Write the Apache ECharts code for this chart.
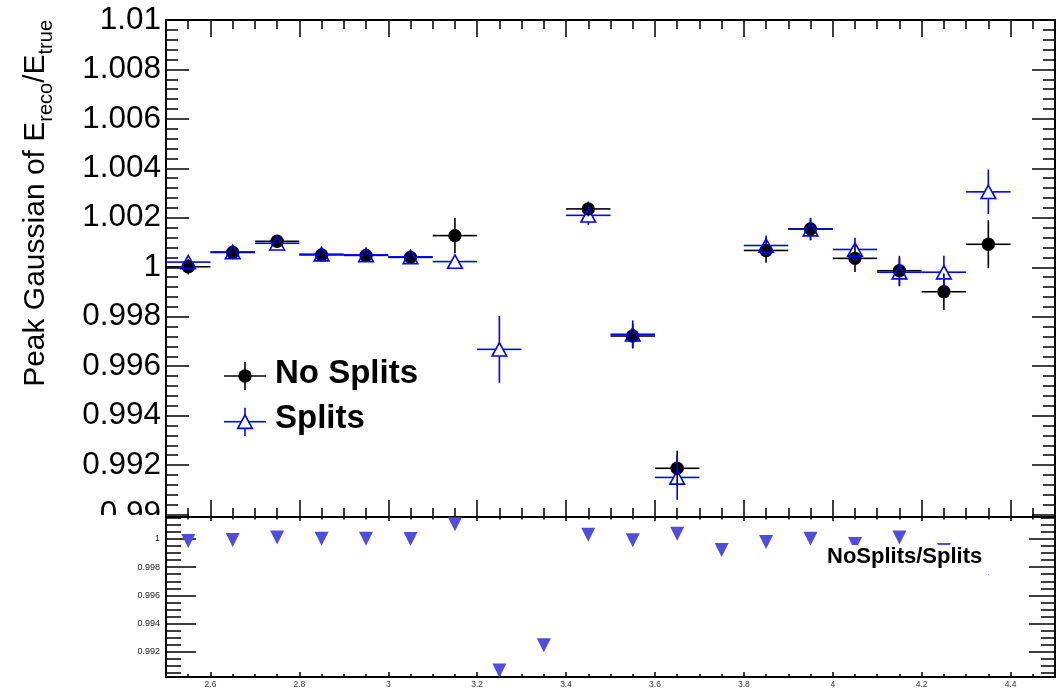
<!DOCTYPE html>
<html><head><meta charset="utf-8">
<script src="https://cdn.jsdelivr.net/npm/echarts@6/dist/echarts.min.js"></script>
<style>html,body{margin:0;padding:0;background:#fff}#c{width:1061px;height:691px}</style>
</head><body><div id="c"></div>
<script>
// ---------------- data ----------------
const xCenters = [2.55, 2.65, 2.75, 2.85, 2.95, 3.05, 3.15, 3.25, 3.35, 3.45, 3.55, 3.65, 3.75, 3.85, 3.95, 4.05, 4.15, 4.25, 4.35];
const binHalfWidth = 0.05;
const seriesNames = ['No Splits', 'Splits'];
const ratioName = 'NoSplits/Splits';
const noSplits    = [1.00002, 1.0006, 1.00105, 1.0005, 1.00048, 1.0004, 1.00128, null, null, 1.00236, 0.99722, 0.99187, null, 1.00068, 1.00155, 1.00036, 0.99986, 0.99901, 1.00093];
const noSplitsErr = [0.00031, 0.0002, 0.0002, 0.0002, 0.0002, 0.0002, 0.00071, null, null, 0.0003, 0.0005, 0.00071, null, 0.0005, 0.00045, 0.00055, 0.0006, 0.00074, 0.00097];
const splits      = [1.00021, 1.00062, 1.00097, 1.00053, 1.0005, 1.00042, 1.00023, 0.99668, null, 1.0021, 0.99729, 0.9915, null, 1.00088, 1.00154, 1.00072, 0.9998, 0.9998, 1.00305];
const splitsErr   = [0.00025, 0.00022, 0.0002, 0.0002, 0.0002, 0.0002, 0.0002, 0.00135, null, 0.00038, 0.00056, 0.0009, null, 0.0004, 0.00045, 0.00047, 0.00057, 0.00067, 0.0009];
const ratio       = [0.99986, 0.99993, 1.0001, 1.00002, 1.00002, 1.0, 1.00104, 0.99067, 0.99246, 1.0003, 0.99991, 1.00038, 0.99922, 0.99979, 1.00002, 0.99965, 1.0001, 0.99922, 0.99792];

const xTickLabels = [2.6, 2.8, 3, 3.2, 3.4, 3.6, 3.8, 4, 4.2, 4.4];
const topYTickLabels = [0.99, 0.992, 0.994, 0.996, 0.998, 1, 1.002, 1.004, 1.006, 1.008, 1.01];
const lowYTickLabels = [0.992, 0.994, 0.996, 0.998, 1];
const yTitle = ['Peak Gaussian of E', 'reco', '/E', 'true'];

// ---------------- helpers ----------------
const FONT = '"Liberation Sans", Arial, Helvetica, sans-serif';
const fmt = v => String(+(+v).toFixed(6));
function steps(a, b, s) { const o = []; const n = Math.round((b - a) / s); for (let i = 0; i <= n; i++) o.push(+(a + i * s).toFixed(6)); return o; }

const X_MIN = 2.5, X_MAX = 4.5;
const TOP_MIN = 0.9899, TOP_MAX = 1.01;
const LOW_MIN = 0.99021, LOW_MAX = 1.00156;
const xMinor = steps(2.55, 4.45, 0.05);
const topYMinor = steps(0.9904, 1.0096, 0.0004);
const lowYMinor = steps(0.9905, 1.0015, 0.0005);

function ax(grid, pos, min, max, ticks, len, line, labels, lab) {
  return {
    type: 'value', gridIndex: grid, position: pos, min: min, max: max,
    axisLine: { show: line, onZero: false, lineStyle: { color: '#000', width: 2 } },
    axisTick: { show: true, inside: true, length: len, customValues: ticks, lineStyle: { color: '#000', width: 1.5 } },
    axisLabel: labels ? Object.assign({ show: true, customValues: labels, formatter: fmt, fontFamily: FONT, color: '#000' }, lab) : { show: false },
    splitLine: { show: false }, minorTick: { show: false }, minorSplitLine: { show: false }
  };
}

const xAxes = [
  ax(0, 'bottom', X_MIN, X_MAX, xTickLabels, 17, false, null),
  ax(0, 'bottom', X_MIN, X_MAX, xMinor, 9, false, null),
  ax(0, 'top', X_MIN, X_MAX, xTickLabels, 17, true, null),
  ax(0, 'top', X_MIN, X_MAX, xMinor, 9, false, null),
  ax(1, 'bottom', X_MIN, X_MAX, xTickLabels, 5, true, xTickLabels, { fontSize: 8.5, margin: 3, color: '#333' }),
  ax(1, 'bottom', X_MIN, X_MAX, xMinor, 3, false, null),
  ax(1, 'top', X_MIN, X_MAX, xTickLabels, 4, true, null),
  ax(1, 'top', X_MIN, X_MAX, xMinor, 2.5, false, null)
];
const yAxes = [
  ax(0, 'left', TOP_MIN, TOP_MAX, topYTickLabels, 23, true, topYTickLabels, { fontSize: 31.5, margin: 5 }),
  ax(0, 'left', TOP_MIN, TOP_MAX, topYMinor, 12, false, null),
  ax(0, 'right', TOP_MIN, TOP_MAX, topYTickLabels, 23, true, null),
  ax(0, 'right', TOP_MIN, TOP_MAX, topYMinor, 12, false, null),
  ax(1, 'left', LOW_MIN, LOW_MAX, lowYTickLabels, 30, true, lowYTickLabels, { fontSize: 9, margin: 6, color: '#222' }),
  ax(1, 'left', LOW_MIN, LOW_MAX, lowYMinor, 15, false, null),
  ax(1, 'right', LOW_MIN, LOW_MAX, lowYTickLabels, 26, true, null),
  ax(1, 'right', LOW_MIN, LOW_MAX, lowYMinor, 14, false, null)
];

function pts(y, e) { return xCenters.map((x, i) => [x, y[i], e[i]]).filter(d => d[1] != null); }

function makeRender(color, marker) {
  return function (params, api) {
    const x = api.value(0), y = api.value(1), e = api.value(2);
    const c = api.coord([x, y]);
    const l = api.coord([x - binHalfWidth, y]);
    const r = api.coord([x + binHalfWidth, y]);
    const t = api.coord([x, y + e]);
    const b = api.coord([x, y - e]);
    const gx = marker === 'tri' ? 4 : 0, gy = marker === 'tri' ? 6.7 : 0;
    const ls = { stroke: color, lineWidth: 1.6 };
    const ch = [];
    const seg = (x1, y1, x2, y2) => ch.push({ type: 'line', shape: { x1, y1, x2, y2 }, style: ls });
    seg(l[0], c[1], c[0] - gx, c[1]);
    seg(c[0] + gx, c[1], r[0], c[1]);
    if (t[1] < c[1] - gy) seg(c[0], t[1], c[0], c[1] - gy);
    if (b[1] > c[1] + gy) seg(c[0], c[1] + gy, c[0], b[1]);
    if (marker === 'tri') {
      ch.push({ type: 'polygon', shape: { points: [[c[0], c[1] - 6.7], [c[0] - 7.3, c[1] + 6.7], [c[0] + 7.3, c[1] + 6.7]] },
        style: { fill: 'none', stroke: color, lineWidth: 1.6 } });
    } else {
      ch.push({ type: 'circle', shape: { cx: c[0], cy: c[1], r: 6.7 }, style: { fill: color } });
    }
    return { type: 'group', children: ch };
  };
}

const chart = echarts.init(document.getElementById('c'), null, { renderer: 'canvas' });
chart.setOption({
  animation: false,
  backgroundColor: '#fff',
  textStyle: { fontFamily: FONT },
  grid: [
    { left: 166, top: 20, width: 889, height: 497 },
    { left: 166, top: 517, width: 889, height: 160 }
  ],
  xAxis: xAxes,
  yAxis: yAxes,
  series: [
    { type: 'custom', name: seriesNames[0], xAxisIndex: 0, yAxisIndex: 0, data: pts(noSplits, noSplitsErr),
      encode: { x: 0, y: 1 }, renderItem: makeRender('#000000', 'circle'), clip: true, silent: true, z: 3 },
    { type: 'custom', name: seriesNames[1], xAxisIndex: 0, yAxisIndex: 0, data: pts(splits, splitsErr),
      encode: { x: 0, y: 1 }, renderItem: makeRender('#0000ff', 'tri'), clip: true, silent: true, z: 4 },
    { type: 'scatter', name: ratioName, xAxisIndex: 4, yAxisIndex: 4, data: xCenters.map((x, i) => [x, ratio[i]]),
      symbol: 'triangle', symbolRotate: 180, symbolSize: [14, 14], itemStyle: { color: '#514cdc', opacity: 1 }, clip: true, silent: true, z: 3 }
  ],
  graphic: [
    { type: 'rect', shape: { x: 0, y: 515, width: 163, height: 17 }, style: { fill: '#fff' }, z: 100 },
    { type: 'text', x: 36, y: 20, rotation: Math.PI / 2, z: 100,
      style: { text: '{m|' + yTitle[0] + '}{s|' + yTitle[1] + '}{m|' + yTitle[2] + '}{s|' + yTitle[3] + '}',
        align: 'right', verticalAlign: 'middle', textAlign: 'right', textVerticalAlign: 'middle', fill: '#000',
        rich: {
          m: { fontSize: 30, fontFamily: FONT, lineHeight: 40, verticalAlign: 'middle', fill: '#000', color: '#000' },
          s: { fontSize: 20, fontFamily: FONT, lineHeight: 40, verticalAlign: 'middle', padding: [20, 0, 0, 0], fill: '#000', color: '#000' }
        } } },
    // legend (upper panel)
    { type: 'line', shape: { x1: 224, y1: 376, x2: 266, y2: 376 }, style: { stroke: '#000', lineWidth: 1.6 }, z: 100 },
    { type: 'line', shape: { x1: 245, y1: 362, x2: 245, y2: 390 }, style: { stroke: '#000', lineWidth: 1.6 }, z: 100 },
    { type: 'circle', shape: { cx: 245, cy: 376, r: 6.7 }, style: { fill: '#000' }, z: 100 },
    { type: 'text', x: 275, y: 374, z: 100, style: { text: seriesNames[0], font: 'bold 33px ' + FONT, fill: '#000', verticalAlign: 'middle', textVerticalAlign: 'middle' } },
    { type: 'line', shape: { x1: 224, y1: 421.7, x2: 241, y2: 421.7 }, style: { stroke: '#0000ff', lineWidth: 1.6 }, z: 100 },
    { type: 'line', shape: { x1: 249, y1: 421.7, x2: 266, y2: 421.7 }, style: { stroke: '#0000ff', lineWidth: 1.6 }, z: 100 },
    { type: 'line', shape: { x1: 245, y1: 407.7, x2: 245, y2: 415 }, style: { stroke: '#0000ff', lineWidth: 1.6 }, z: 100 },
    { type: 'line', shape: { x1: 245, y1: 428.4, x2: 245, y2: 436 }, style: { stroke: '#0000ff', lineWidth: 1.6 }, z: 100 },
    { type: 'polygon', shape: { points: [[245, 415], [237.7, 428.4], [252.3, 428.4]] }, style: { fill: 'none', stroke: '#0000ff', lineWidth: 1.6 }, z: 100 },
    { type: 'text', x: 275, y: 419, z: 100, style: { text: seriesNames[1], font: 'bold 33px ' + FONT, fill: '#000', verticalAlign: 'middle', textVerticalAlign: 'middle' } },
    // legend (ratio panel)
    { type: 'rect', shape: { x: 815, y: 545, width: 185, height: 29 }, style: { fill: '#fff' }, z: 100 },
    { type: 'text', x: 827, y: 557, z: 101, style: { text: ratioName, font: 'bold 22px ' + FONT, fill: '#000', verticalAlign: 'middle', textVerticalAlign: 'middle' } }
  ]
});
</script></body></html>
